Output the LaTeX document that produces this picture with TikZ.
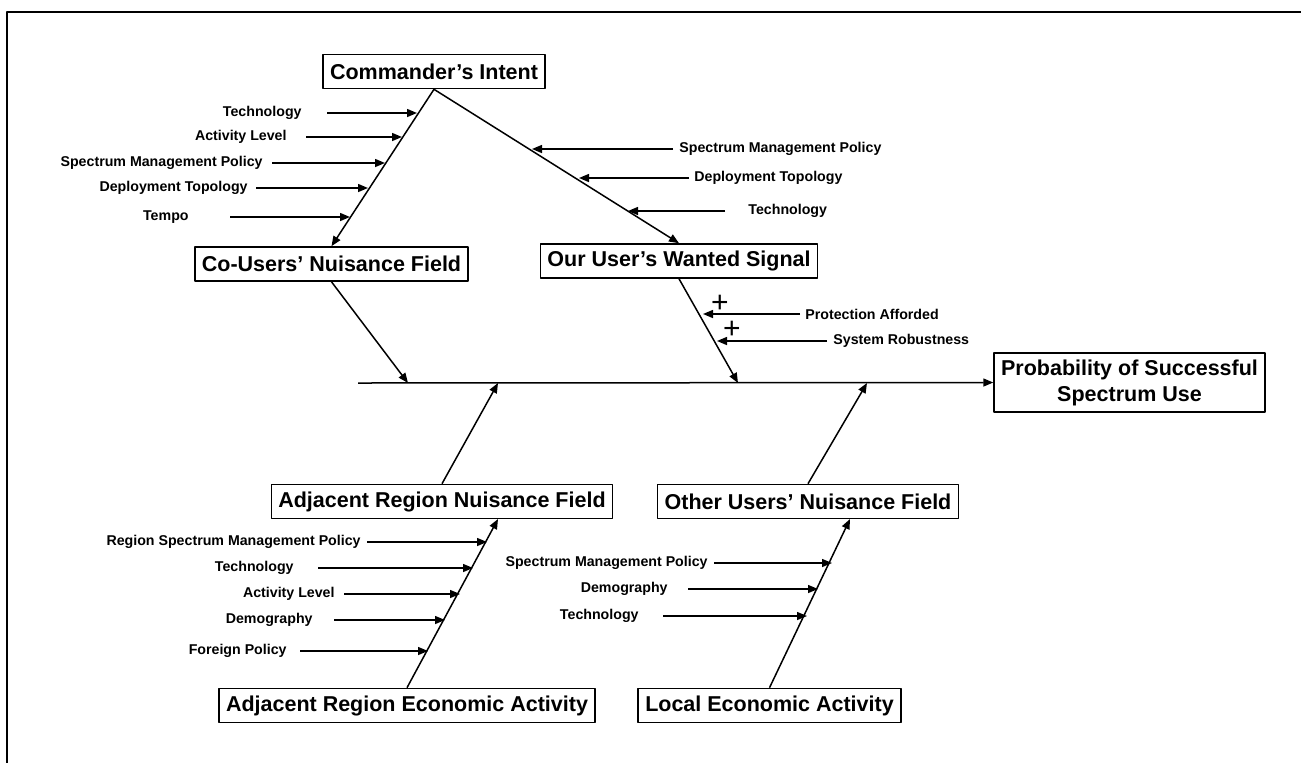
\documentclass[tikz,border=0pt]{standalone}
\usepackage{fontspec}
\setmainfont{Liberation Sans}
\usetikzlibrary{arrows.meta}
\tikzset{
	effect/.style={draw, line width=0.8pt, inner xsep=3.5pt, inner ysep=0pt, minimum height=17pt, font=\fontsize{10.75}{13}\selectfont\bfseries},
	factor/.style={inner sep=0pt, font=\fontsize{7.1}{8.5}\selectfont\bfseries},
	sign/.style={inner sep=0pt, font=\fontsize{15}{15}\selectfont},
	bone/.style={->, line width=0.75pt}
}
\begin{document}
\begin{tikzpicture}[x=0.5pt, y=-0.5pt, >={Triangle[length=5pt,width=4pt]}, line join=round]
	\useasboundingbox (0,0) rectangle (1301,762);
	\draw[line width=1pt] (7,775)--(7,12)--(1315,12);
	\node[effect] (ci) at (434,71.5) {Commander’s Intent};
	\node[effect] (cu) at (331.5,264) {Co-Users’ Nuisance Field};
	\node[effect] (ou) at (679,261) {Our User’s Wanted Signal};
	\node[effect] (an) at (442,501.5) {Adjacent Region Nuisance Field};
	\node[effect] (on) at (808,501.5) {Other Users’ Nuisance Field};
	\node[effect] (ae) at (407,705.5) {Adjacent Region Economic Activity};
	\node[effect] (le) at (769.5,705.5) {Local Economic Activity};
	\node[effect, align=center, minimum height=29.5pt] (pr) at (1129.5,382.5) {Probability of Successful\\Spectrum Use};
	\coordinate (sp) at (358,383);
	\coordinate (s1) at (408,383); \coordinate (s2) at (498,383);
	\coordinate (s3) at (738,383); \coordinate (s4) at (867,383);
	\coordinate (a1) at (498,519); \coordinate (a2) at (850,519);
	\draw[bone] (sp)--(pr.west);
	\draw[bone] (ci.south)--(cu.north);
	\draw[bone] (ci.south)--(ou.north);
	\draw[bone] (cu.south)--(s1);
	\draw[bone] (ou.south)--(s3);
	\draw[bone] (an.north)--(s2);
	\draw[bone] (on.north)--(s4);
	\draw[bone] (ae.north)--(a1);
	\draw[bone] (le.north)--(a2);
	\foreach \txt/\tx/\ty/\gp/\hx [count=\i] in {Technology/302/113/12.5pt/417, Activity Level/287/137/9.5pt/402, Spectrum Management Policy/263/163/4.5pt/385, Deployment Topology/248/188/4pt/368, Tempo/189/217/20.5pt/350}
	{\node[factor, anchor=east] (cl\i) at (\tx,\ty) {\txt};
		\coordinate (ct\i) at (\hx,\ty);
		\draw[bone, shorten <=\gp] (cl\i)--(ct\i);}
	\foreach \txt/\tx/\ty/\gp/\hx [count=\i] in {Spectrum Management Policy/679/149/3pt/532, Deployment Topology/694/178/2.5pt/579, Technology/748/211/11.5pt/628, Protection Afforded/805/314/2.5pt/703, System Robustness/833/341/3pt/717}
	{\node[factor, anchor=west] (wl\i) at (\tx,\ty) {\txt};
		\coordinate (wt\i) at (\hx,\ty);
		\draw[bone, shorten <=\gp] (wl\i)--(wt\i);}
	\foreach \txt/\tx/\ty/\gp/\hx [count=\i] in {Region Spectrum Management Policy/361/542/3pt/487, Technology/294/568/12pt/473, Activity Level/335/594/4.5pt/460, Demography/313/620/10.5pt/445, Foreign Policy/287/651/6.5pt/428}
	{\node[factor, anchor=east] (al\i) at (\tx,\ty) {\txt};
		\coordinate (at\i) at (\hx,\ty);
		\draw[bone, shorten <=\gp] (al\i)--(at\i);}
	\foreach \txt/\tx/\ty/\gp/\hx [count=\i] in {Spectrum Management Policy/708/563/3pt/832, Demography/668/589/10pt/818, Technology/639/616/12pt/807}
	{\node[factor, anchor=east] (ll\i) at (\tx,\ty) {\txt};
		\coordinate (lt\i) at (\hx,\ty);
		\draw[bone, shorten <=\gp] (ll\i)--(lt\i);}
	\node[sign] (p1) at (720,304) {+};
	\node[sign] (p2) at (732,330) {+};
\end{tikzpicture}
\end{document}
